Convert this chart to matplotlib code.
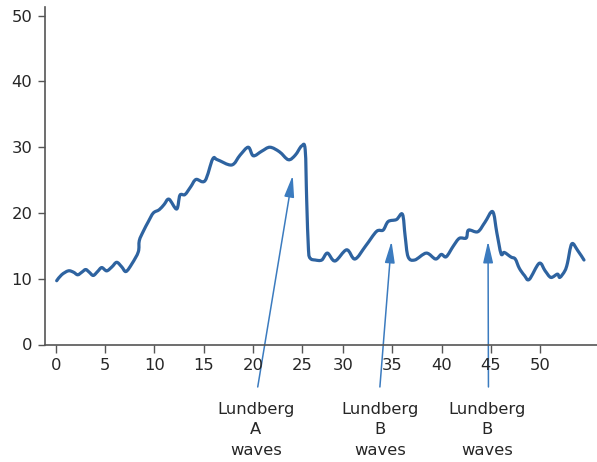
import matplotlib
matplotlib.use("Agg")
import matplotlib.pyplot as plt
from matplotlib.patches import FancyArrowPatch, PathPatch
from matplotlib.path import Path
import numpy as np

# Time (minutes) and intracranial pressure readings
time_min = [0.1, 0.6, 1.28, 1.8, 2.23, 2.65, 3.04, 3.4, 3.81, 4.25, 4.67, 5.17, 5.7,
            6.19, 6.7, 7.13, 7.74, 8.38, 8.48, 8.88, 9.4, 9.9, 10.5, 11.0, 11.49,
            12.27, 12.6, 13.11, 13.7, 14.23, 15.14, 15.92, 16.4, 17.85, 18.7, 19.53,
            20.04, 20.9, 21.73, 22.7, 23.6, 24.3, 24.95, 25.37, 25.55, 25.77, 26.0,
            26.59, 27.4, 28.09, 29.02, 30.37, 31.21, 32.3, 33.4, 34.07, 34.58, 35.42,
            36.03, 36.3, 36.6, 37.27, 38.45, 39.39, 39.97, 40.47, 41.2, 41.8, 42.5,
            42.73, 43.67, 44.4, 45.18, 45.6, 46.03, 46.36, 47.04, 47.47, 47.88, 48.4,
            48.89, 49.9, 50.5, 51.08, 51.75, 51.99, 52.5, 52.76, 53.2, 53.8, 54.44]
pressure = [9.7, 10.6, 11.2, 11.0, 10.6, 11.0, 11.4, 11.0, 10.5, 11.1, 11.7, 11.2, 11.8,
            12.5, 11.8, 11.1, 12.3, 14.1, 15.8, 17.2, 18.7, 20.0, 20.5, 21.3, 22.1,
            20.6, 22.7, 22.8, 24.0, 25.1, 24.9, 28.2, 28.1, 27.3, 28.8, 30.0,
            28.7, 29.4, 30.0, 29.3, 28.1, 28.8, 30.2, 29.6, 22.0, 14.4, 13.1,
            12.85, 12.85, 13.9, 12.7, 14.4, 13.0, 15.0, 17.2, 17.4, 18.7, 19.0,
            19.8, 16.5, 13.35, 12.85, 13.9, 13.0, 13.7, 13.35, 15.0, 16.15, 16.2,
            17.4, 17.15, 18.6, 20.2, 17.0, 13.8, 14.0, 13.3, 13.0, 11.6, 10.5,
            9.9, 12.35, 11.2, 10.2, 10.7, 10.2, 11.2, 12.35, 15.3, 14.3, 12.85]

x_ticks = [0, 5, 10, 15, 20, 25, 30, 35, 40, 45, 50]
y_ticks = [0, 10, 20, 30, 40, 50]

# Annotated events: label, arrow tail (time, pressure), arrow tip (time, pressure)
wave_labels = ["Lundberg\nA\nwaves", "Lundberg\nB\nwaves", "Lundberg\nB\nwaves"]
label_time = [20.31, 33.79, 44.65]
arrow_tail_time = [20.49, 33.74, 44.75]
arrow_tip_time = [24.04, 34.92, 44.71]
arrow_tip_pressure = [25.7, 15.7, 15.7]
arrow_tail_pressure = -6.46
label_pressure = -13.0


# The time axis is compressed between 25 and 30 minutes
def fwd(x):
    x = np.asarray(x, dtype=float)
    return np.where(x <= 25, x, np.where(x <= 30, 25 + (x - 25) * 0.828, x - 0.86))


def inv(p):
    p = np.asarray(p, dtype=float)
    return np.where(p <= 25, p, np.where(p <= 29.14, 25 + (p - 25) / 0.828, p + 0.86))


def smooth_path(xs, ys):
    """Catmull-Rom curve through the readings, as cubic Bezier segments."""
    pts = np.column_stack([xs, ys]).astype(float)
    ext = np.vstack([pts[0], pts, pts[-1]])
    verts = [pts[0]]
    codes = [Path.MOVETO]
    for i in range(1, len(ext) - 2):
        p0, p1, p2, p3 = ext[i - 1], ext[i], ext[i + 1], ext[i + 2]
        c1 = p1 + (p2 - p0) / 6.0
        c2 = p2 - (p3 - p1) / 6.0
        verts += [c1, c2, p2]
        codes += [Path.CURVE4] * 3
    return Path(np.array(verts), codes)


plt.rcParams["font.family"] = ["DejaVu Sans"]
text_color = "#262626"
spine_color = "#555555"

fig = plt.figure(figsize=(5.97, 4.62), dpi=100)
ax = fig.add_axes([45 / 597, 117.5 / 462, 552 / 597, 337 / 462])
ax.set_xscale("function", functions=(fwd, inv))
ax.set_xlim(-1.085, 55.76)
ax.set_ylim(0, 51.25)

# Smooth trace built on the scaled (compressed) time axis
trace = smooth_path(fwd(time_min), pressure)
patch = PathPatch(trace, facecolor="none", edgecolor="#2e63a0", lw=2.3,
                  joinstyle="round", capstyle="round",
                  transform=ax.transLimits + ax.transAxes)
ax.add_patch(patch)

ax.set_xticks(x_ticks)
ax.set_xticklabels([str(t) for t in x_ticks])
ax.set_yticks(y_ticks)
ax.set_yticklabels([str(t) for t in y_ticks])
ax.xaxis.set_minor_locator(matplotlib.ticker.NullLocator())

for side in ("top", "right"):
    ax.spines[side].set_visible(False)
for side in ("left", "bottom"):
    ax.spines[side].set_color(spine_color)
    ax.spines[side].set_linewidth(1.2)

ax.tick_params(axis="both", colors=spine_color, labelcolor=text_color,
               labelsize=11.8, width=1.0)
ax.tick_params(axis="x", length=6, pad=4)
ax.tick_params(axis="y", length=5, pad=4)

for lab, lt, tt, tp, xtip in zip(wave_labels, label_time, arrow_tail_time,
                                 arrow_tip_pressure, arrow_tip_time):
    arr = FancyArrowPatch((tt, arrow_tail_pressure), (xtip, tp),
                          arrowstyle="-|>,head_length=1.3,head_width=0.3",
                          mutation_scale=10, color="#3b7bbf", lw=1.1,
                          shrinkA=0, shrinkB=0, clip_on=False)
    ax.add_patch(arr)
    ax.text(lt, label_pressure, lab, ha="center", va="center", fontsize=11.8,
            color=text_color, linespacing=1.45, clip_on=False)

fig.savefig("out.png", dpi=100)
